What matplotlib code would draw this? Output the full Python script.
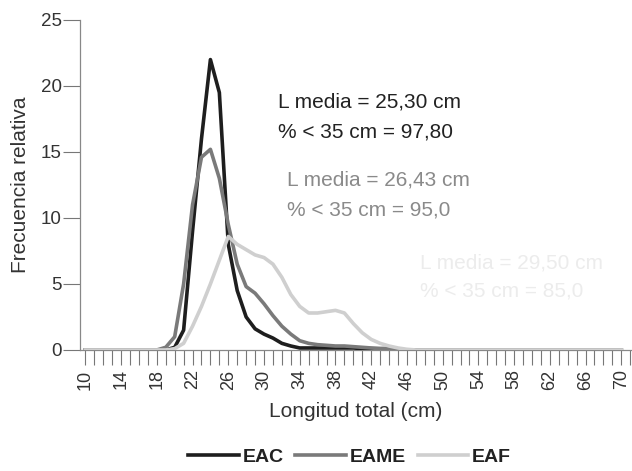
import matplotlib
matplotlib.use("Agg")
import matplotlib.pyplot as plt
from matplotlib.ticker import MultipleLocator

# length classes (cm)
longitud = list(range(10, 71))

# relative frequency (%), from 19 cm upwards (below: 0)
eac_vals = [0.0, 0.2, 1.5, 9.0, 16.0, 22.0, 19.5, 8.0, 4.5, 2.5, 1.6, 1.2, 0.9, 0.5,
            0.3, 0.15, 0.15, 0.15, 0.15, 0.15, 0.15, 0.15, 0.1, 0.1, 0.1, 0.1]
eame_vals = [0.2, 1.0, 5.0, 11.0, 14.6, 15.2, 13.0, 9.5, 6.5, 4.8, 4.3, 3.5, 2.6, 1.8,
             1.2, 0.7, 0.5, 0.4, 0.35, 0.3, 0.3, 0.25, 0.2, 0.15, 0.1, 0.1, 0.05]
eaf_vals = [0.0, 0.1, 0.5, 1.8, 3.3, 5.0, 6.8, 8.6, 8.0, 7.6, 7.2, 7.0, 6.5, 5.5, 4.2,
            3.3, 2.8, 2.8, 2.9, 3.0, 2.8, 2.0, 1.3, 0.8, 0.5, 0.3, 0.15, 0.05]


def pad(vals, start=19):
    out = [0.0] * (start - longitud[0]) + vals
    return out + [0.0] * (len(longitud) - len(out))


eac = pad(eac_vals)
eame = pad(eame_vals)
eaf = pad(eaf_vals)

series = [("EAC", eac, "#1e1e1e"), ("EAME", eame, "#7a7a7a"), ("EAF", eaf, "#cfcfcf")]

plt.rcParams["font.family"] = ["Liberation Sans", "DejaVu Sans"]

fig = plt.figure(figsize=(6.32, 4.71), dpi=100)
ax = fig.add_axes([0.1266, 0.257, 0.8734, 0.7006])

for name, vals, color in series:
    ax.plot(longitud, vals, color=color, lw=2.6, label=name, zorder=3)

ax.set_xlim(9.4, 71.2)
ax.set_ylim(0, 25)
ax.set_xticks(list(range(10, 71, 4)))
ax.xaxis.set_minor_locator(MultipleLocator(1))
ax.yaxis.set_major_locator(MultipleLocator(5))
ax.tick_params(axis="x", which="both", direction="out", length=11, width=0.8,
               color="#777777", labelrotation=90, labelsize=13, labelcolor="#333333", pad=3)
ax.tick_params(axis="y", direction="out", length=12, width=0.8, color="#777777",
               labelsize=13.5, labelcolor="#333333", pad=1)

for s in ["top", "right"]:
    ax.spines[s].set_visible(False)
for s in ["left", "bottom"]:
    ax.spines[s].set_color("#888888")
    ax.spines[s].set_linewidth(0.9)

ax.set_xlabel("Longitud total (cm)", fontsize=15, color="#333333", labelpad=9)
ax.set_ylabel("Frecuencia relativa", fontsize=15, color="#333333", labelpad=8)

ax.text(31.6, 18.8, "L media = 25,30 cm", fontsize=15, color="#222222", va="center")
ax.text(31.6, 16.5, "% < 35 cm = 97,80", fontsize=15, color="#222222", va="center")
ax.text(32.6, 12.9, "L media = 26,43 cm", fontsize=15, color="#8a8a8a", va="center")
ax.text(32.6, 10.6, "% < 35 cm = 95,0", fontsize=15, color="#8a8a8a", va="center")
ax.text(47.5, 6.6, "L media = 29,50 cm", fontsize=15, color="#ececec", va="center")
ax.text(47.5, 4.5, "% < 35 cm = 85,0", fontsize=15, color="#ececec", va="center")

leg = fig.legend(loc="center", bbox_to_anchor=(0.553, 0.03), ncol=3, frameon=False,
                 handlelength=2.6, handletextpad=0.2, columnspacing=0.6,
                 prop={"weight": "bold", "size": 14})
for t in leg.get_texts():
    t.set_color("#222222")

fig.savefig("out.png", dpi=100)
